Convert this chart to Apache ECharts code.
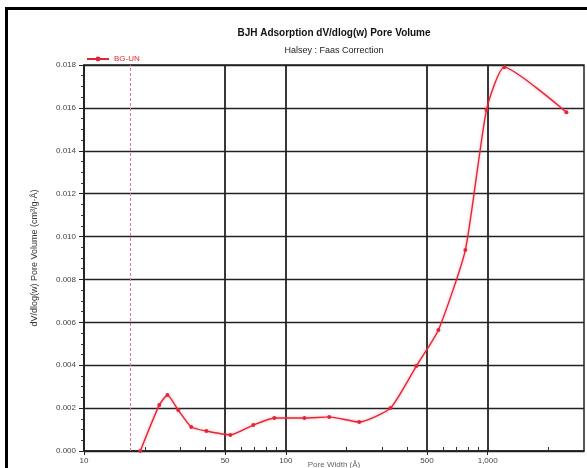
<!DOCTYPE html>
<html>
<head>
<meta charset="utf-8">
<script src="https://cdn.jsdelivr.net/npm/echarts@6/dist/echarts.min.js"></script>
<style>html,body{margin:0;padding:0;background:#fff}#c{width:587px;height:468px}</style>
</head>
<body>
<div id="c"></div>
<script>
// Data
var poreWidth = [19.0, 23.6, 25.9, 29.3, 34.0, 40.4, 53.1, 69.0, 87.7, 123.5, 164, 231, 330, 443, 570, 775, 986, 1210, 2455];
var poreVolume = [0.0000, 0.00214, 0.00261, 0.00191, 0.00112, 0.00093, 0.00075, 0.00121, 0.00154, 0.00154, 0.00159, 0.00135, 0.00200, 0.00396, 0.00564, 0.00937, 0.0159, 0.0179, 0.0158];
var seriesName = 'BG-UN';
var xMajorTicks = [10, 50, 100, 500, 1000];
var xMinorTicks = [20, 30, 40, 60, 70, 80, 90, 200, 300, 400, 600, 700, 800, 900, 2000];
var lowerLimit = 17;
var titleText = 'BJH Adsorption dV/dlog(w) Pore Volume';
var subtitleText = 'Halsey : Faas Correction';
var xTitle = 'Pore Width (Å)';
var yTitle = 'dV/dlog(w) Pore Volume (cm³/g·Å)';

var pts = poreWidth.map(function (x, i) { return [x, poreVolume[i]]; });
var chart = echarts.init(document.getElementById('c'), null, { renderer: 'canvas' });
var font = 'Liberation Sans, Arial, sans-serif';
var red = '#e52535';
chart.setOption({
  animation: false,
  backgroundColor: '#fff',
  textStyle: { fontFamily: font },
  graphic: [
    { type: 'rect', shape: { x: 6.5, y: 8.5, width: 700, height: 600 }, style: { fill: 'none', stroke: '#000', lineWidth: 3 }, z: 100 },
    { type: 'text', x: 334, y: 28, style: { text: titleText, fill: '#111', font: 'bold 10px ' + font, textAlign: 'center' } },
    { type: 'text', x: 334, y: 46, style: { text: subtitleText, fill: '#222', font: '9px ' + font, textAlign: 'center' } }
  ],
  legend: {
    left: 86, top: 55, itemWidth: 22, itemHeight: 6, itemGap: 4, padding: 0,
    textStyle: { color: red, fontSize: 8, fontFamily: font },
    data: [seriesName]
  },
  grid: { left: 84, top: 65, right: 3, bottom: 17, show: true, borderColor: '#222', borderWidth: 1.5, outerBoundsMode: 'none', containLabel: false },
  xAxis: [{
    type: 'log', logBase: 10, min: 10, max: 3000,
    name: xTitle, nameLocation: 'middle', nameGap: 10, nameMoveOverlap: false,
    nameTextStyle: { fontSize: 8, color: '#666', verticalAlign: 'top' },
    axisLine: { show: true, lineStyle: { color: '#222', width: 1.5 } },
    axisTick: { show: true, customValues: xMajorTicks, length: 4, lineStyle: { color: '#222' } },
    axisLabel: { customValues: xMajorTicks, fontSize: 8, color: '#444', margin: 6,
      formatter: function (v) { return v >= 1000 ? v.toLocaleString('en-US') : String(v); } },
    splitLine: { show: true, lineStyle: { color: '#222', width: 1.8 } },
    minorTick: { show: false }
  }, {
    type: 'log', logBase: 10, min: 10, max: 3000, position: 'bottom',
    axisLine: { show: false },
    axisTick: { show: true, customValues: xMinorTicks, inside: true, length: 4, lineStyle: { color: '#333' } },
    axisLabel: { show: false },
    splitLine: { show: false }
  }],
  yAxis: {
    type: 'value', min: 0, max: 0.018, interval: 0.002,
    name: yTitle, nameLocation: 'middle', nameGap: 45, nameRotate: 90, nameMoveOverlap: false,
    nameTextStyle: { fontSize: 9, color: '#333' },
    axisLine: { show: true, lineStyle: { color: '#222', width: 1.5 } },
    axisTick: { show: true, length: 5, lineStyle: { color: '#222' } },
    minorTick: { show: true, splitNumber: 4, length: 3, lineStyle: { color: '#333' } },
    axisLabel: { fontSize: 8, color: '#444', margin: 8, formatter: function (v) { return v.toFixed(3); } },
    splitLine: { show: true, lineStyle: { color: '#222', width: 1.3 } }
  },
  series: [{
    name: seriesName, type: 'line', xAxisIndex: 0, data: pts, smooth: 0.18,
    symbol: 'circle', symbolSize: 4,
    lineStyle: { color: red, width: 1.4, shadowColor: 'rgba(240,80,100,0.5)', shadowBlur: 3 },
    itemStyle: { color: red },
    markLine: {
      silent: true, symbol: 'none', label: { show: false },
      lineStyle: { color: '#e87080', type: [3, 2], width: 1 },
      data: [{ xAxis: lowerLimit }]
    }
  }]
});
</script>
</body>
</html>
